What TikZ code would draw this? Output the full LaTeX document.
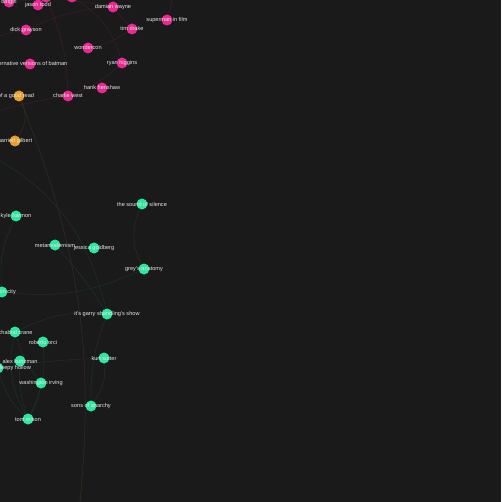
\documentclass[tikz,border=0pt]{standalone}
\usepackage{fontspec}
\setmainfont{Liberation Sans}
\usetikzlibrary{backgrounds}
\definecolor{bgc}{HTML}{1A1A1A}
\definecolor{pinkc}{HTML}{E62A92}
\definecolor{orangec}{HTML}{EBA02D}
\definecolor{greenc}{HTML}{2DE6A0}
\definecolor{textc}{HTML}{E6E6E6}

\begin{document}
\begin{tikzpicture}[x=1pt,y=-1pt]
    \tikzstyle{dot}=[circle, minimum size=11pt, inner sep=0pt]
    \tikzstyle{pinkdot}=[dot, fill=pinkc]
    \tikzstyle{orangedot}=[dot, fill=orangec]
    \tikzstyle{greendot}=[dot, fill=greenc]
    \tikzstyle{lbl}=[font=\fontsize{5.6}{6}\selectfont, text=textc, inner sep=0pt]
    \tikzstyle{pinkedge}=[draw=pinkc!16!bgc, line width=0.5pt]
    \tikzstyle{orangeedge}=[draw=orangec!14!bgc, line width=0.5pt]
    \tikzstyle{greenedge}=[draw=greenc!12!bgc, line width=0.5pt]
    \useasboundingbox (0,0) rectangle (501,502);

    \node[pinkdot, label={[lbl]center:batgirl}] (batgirl) at (9,2) {};
    \node[pinkdot] (toppink) at (46,-3) {};
    \node[pinkdot] (topmid) at (72,-3) {};
    \node[pinkdot, label={[lbl]center:jason todd}] (jason) at (38,5) {};
    \node[pinkdot, label={[lbl]center:damian wayne}] (damian) at (113,7) {};
    \node[pinkdot, label={[lbl]center:superman in film}] (superman) at (167,20) {};
    \node[pinkdot, label={[lbl]center:tim drake}] (tim) at (132,29) {};
    \node[pinkdot, label={[lbl]center:dick grayson}] (dick) at (26,30) {};
    \node[pinkdot, label={[lbl]center:wondercon}] (wondercon) at (88,48) {};
    \node[pinkdot, label={[lbl]center:alternative versions of batman}] (altbatman) at (30,64) {};
    \node[pinkdot, label={[lbl]center:ryan higgins}] (ryan) at (122,63) {};
    \node[pinkdot, label={[lbl]center:hank henshaw}] (hank) at (102,88) {};
    \node[pinkdot, label={[lbl]center:charlie west}] (charlie) at (68,96) {};

    \node[orangedot, label={[lbl,xshift=-3pt]center:of a good read}] (goodread) at (19,96) {};
    \node[orangedot, label={[lbl]center:harriett gilbert}] (harriett) at (15,141) {};

    \node[greendot, label={[lbl]center:the sound of silence}] (sound) at (142,204) {};
    \node[greendot, label={[lbl]center:kyle harmon}] (kyle) at (16,216) {};
    \node[greendot, label={[lbl]center:metamodernism}] (meta) at (55,245) {};
    \node[greendot, label={[lbl]center:jessica goldberg}] (jessica) at (94,248) {};
    \node[greendot, label={[lbl]center:grey's anatomy}] (grey) at (144,269) {};
    \node[greendot, label={[lbl,xshift=2pt]center:union city}] (city) at (2,292) {};
    \node[greendot, label={[lbl]center:it's garry shandling's show}] (garry) at (107,314) {};
    \node[greendot, label={[lbl]center:ichabod crane}] (ichabod) at (15,332) {};
    \node[greendot, label={[lbl]center:roberto orci}] (roberto) at (43,342) {};
    \node[greendot, label={[lbl]center:kurt sutter}] (kurt) at (104,358) {};
    \node[greendot, label={[lbl]center:alex kurtzman}] (alex) at (20,361) {};
    \node[greendot, label={[lbl,xshift=16pt]center:sleepy hollow}] (sleepy) at (-2,368) {};
    \node[greendot, label={[lbl]center:washington irving}] (washington) at (41,383) {};
    \node[greendot, label={[lbl]center:sons of anarchy}] (sons) at (91,406) {};
    \node[greendot, label={[lbl]center:tom mison}] (tom) at (28,419) {};

    \coordinate (offtop) at (172,-20);
    \coordinate (offleftA) at (-20,45);
    \coordinate (offleftB) at (-20,117);
    \coordinate (offleftC) at (-20,150);
    \coordinate (offbottom) at (77,530);

    \begin{pgfonlayer}{background}
    \fill[bgc] (0,0) rectangle (501,502);
    \draw[pinkedge] (batgirl) to[bend left=8] (damian);
    \draw[pinkedge] (toppink) to[bend left=10] (charlie);
    \draw[pinkedge] (topmid) to[bend left=20] (ryan);
    \draw[pinkedge] (dick) to[bend left=10] (damian);
    \draw[pinkedge] (dick) to[bend right=10] (offleftA);
    \draw[pinkedge] (damian) -- (tim);
    \draw[pinkedge] (tim) to[bend left=10] (wondercon);
    \draw[pinkedge] (superman) to[bend right=10] (offtop);
    \draw[pinkedge] (ryan) to[bend left=10] (charlie);
    \draw[pinkedge] (charlie) to[bend right=5] (offleftB);
    \draw[orangeedge] (goodread) to[bend left=30] (harriett);
    \draw[orangeedge] (goodread) to[bend left=14] (offbottom);
    \draw[greenedge] (offleftC) to[bend left=25] (garry);
    \draw[greenedge] (kyle) to[bend right=15] (city);
    \draw[greenedge] (sound) to[bend right=25] (grey);
    \draw[greenedge] (grey) to[bend left=15] (city);
    \draw[greenedge] (meta) -- (jessica);
    \draw[greenedge] (meta) to[bend left=5] (garry);
    \draw[greenedge] (ichabod) to[bend left=15] (garry);
    \draw[greenedge] (garry) to[bend right=10] (sons);
    \draw[greenedge] (kurt) to[bend left=20] (sons);
    \draw[greenedge] (sleepy) to[bend left=3] (kurt);
    \draw[greenedge] (tom) to[bend left=10] (alex);
    \draw[greenedge] (tom) to[bend right=15] (roberto);
    \draw[greenedge] (tom) to[bend right=10] (washington);
    \draw[greenedge] (tom) to[bend left=15] (sleepy);
    \draw[greenedge] (tom) to[bend left=20] (ichabod);
    \draw[greenedge] (washington) to[bend left=10] (ichabod);
    \end{pgfonlayer}
\end{tikzpicture}
\end{document}
